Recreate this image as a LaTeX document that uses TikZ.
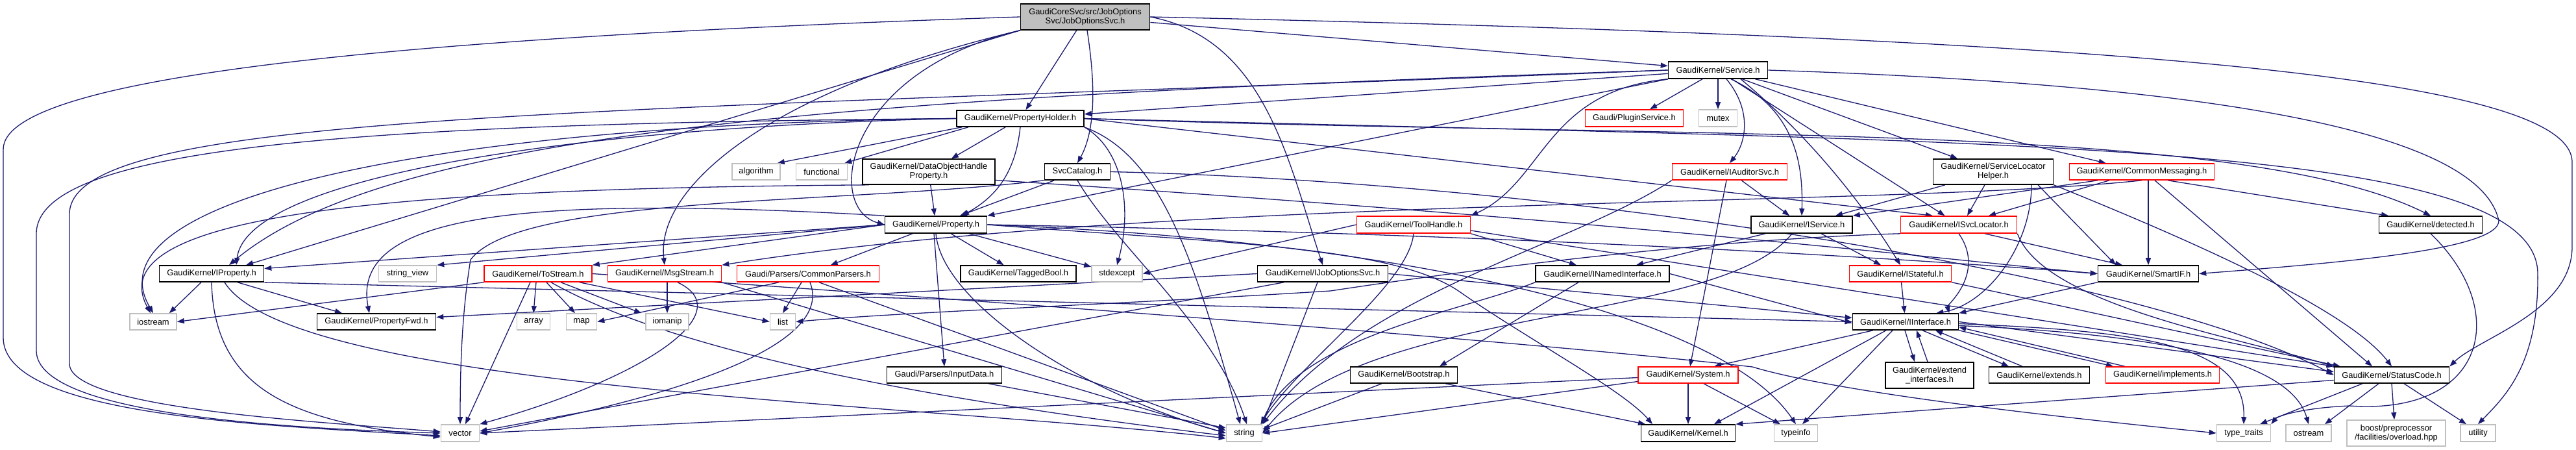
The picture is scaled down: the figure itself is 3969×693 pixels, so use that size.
\documentclass[tikz,border=0pt]{standalone}
\usepackage{fontspec}
\setmainfont{Liberation Sans}
\usetikzlibrary{arrows.meta,backgrounds}
\definecolor{eb}{RGB}{25,25,112}
\definecolor{gb}{RGB}{191,191,191}
\definecolor{rb}{RGB}{255,0,0}
\tikzset{
  wh/.style 2 args={minimum width=#1pt,minimum height=#2pt},
  nd/.style={rectangle,inner sep=0pt,align=center,fill=white,line width=1.6pt,font=\fontsize{12.9}{14}\selectfont},
  blk/.style={nd,draw=black},
  redb/.style={nd,draw=rb},
  gry/.style={nd,draw=gb},
  rootbox/.style={nd,draw=black,fill=gb},
  edge/.style={draw=eb,line width=1.3pt,-{Triangle[length=11pt,width=8pt]}},
}
\begin{document}
\begin{tikzpicture}[x=1pt,y=-1pt]
\useasboundingbox (0,0) rectangle (3969,693);
% nodes
\node[rootbox,wh={199}{40}] (root) at (1672,26) {GaudiCoreSvc/src/JobOptions\\Svc/JobOptionsSvc.h};
\node[blk,wh={153}{26}] (ser) at (2647,108) {GaudiKernel/Service.h};
\node[blk,wh={196}{25}] (ph) at (1572,182.5) {GaudiKernel/PropertyHolder.h};
\node[redb,wh={151}{26}] (plug) at (2518,182) {Gaudi/PluginService.h};
\node[gry,wh={59}{26}] (mutex) at (2647,182) {mutex};
\node[gry,wh={74}{25}] (algo) at (1165,264.5) {algorithm};
\node[gry,wh={79}{25}] (func) at (1266,264.5) {functional};
\node[blk,wh={204}{39}] (dohp) at (1431,264.5) {GaudiKernel/DataObjectHandle\\Property.h};
\node[blk,wh={101}{25}] (svccat) at (1660,264.5) {SvcCatalog.h};
\node[redb,wh={177}{25}] (iaud) at (2665,264.5) {GaudiKernel/IAuditorSvc.h};
\node[blk,wh={185}{39}] (slh) at (3071,264.5) {GaudiKernel/ServiceLocator\\Helper.h};
\node[redb,wh={223}{25}] (cmsg) at (3300,264.5) {GaudiKernel/CommonMessaging.h};
\node[blk,wh={157}{26}] (prop) at (1442,346) {GaudiKernel/Property.h};
\node[redb,wh={175}{26}] (tool) at (2178,346) {GaudiKernel/ToolHandle.h};
\node[blk,wh={156}{26}] (isvc) at (2776,346) {GaudiKernel/IService.h};
\node[redb,wh={179}{26}] (isl) at (3018,346) {GaudiKernel/ISvcLocator.h};
\node[blk,wh={159}{26}] (det) at (3745,346) {GaudiKernel/detected.h};
\node[blk,wh={161}{25}] (iprop) at (326,421.5) {GaudiKernel/IProperty.h};
\node[gry,wh={89}{25}] (sv) at (628,421.5) {string\_view};
\node[redb,wh={166}{25}] (tostr) at (829,421.5) {GaudiKernel/ToStream.h};
\node[redb,wh={175}{25}] (msg) at (1024,421.5) {GaudiKernel/MsgStream.h};
\node[redb,wh={219}{25}] (cp) at (1245,421.5) {Gaudi/Parsers/CommonParsers.h};
\node[blk,wh={178}{25}] (tb) at (1569,421.5) {GaudiKernel/TaggedBool.h};
\node[gry,wh={78}{25}] (stdex) at (1721,421.5) {stdexcept};
\node[blk,wh={201}{25}] (ijo) at (2038,421.5) {GaudiKernel/IJobOptionsSvc.h};
\node[blk,wh={206}{25}] (inamed) at (2469,421.5) {GaudiKernel/INamedInterface.h};
\node[redb,wh={157}{25}] (istate) at (2928,421.5) {GaudiKernel/IStateful.h};
\node[blk,wh={155}{25}] (smart) at (3310,421.5) {GaudiKernel/SmartIF.h};
\node[gry,wh={72}{25}] (iostr) at (236,495.5) {iostream};
\node[blk,wh={183}{25}] (pfwd) at (580,495.5) {GaudiKernel/PropertyFwd.h};
\node[gry,wh={51}{25}] (array) at (822,495.5) {array};
\node[gry,wh={47}{25}] (map) at (896,495.5) {map};
\node[gry,wh={66}{25}] (iomanip) at (1028,495.5) {iomanip};
\node[gry,wh={39}{25}] (list) at (1206,495.5) {list};
\node[blk,wh={163}{25}] (iint) at (2936,495.5) {GaudiKernel/IInterface.h};
\node[blk,wh={177}{25}] (input) at (1455,577.5) {Gaudi/Parsers/InputData.h};
\node[blk,wh={165}{25}] (boot) at (2163,577.5) {GaudiKernel/Bootstrap.h};
\node[redb,wh={154}{25}] (sys) at (2601,577.5) {GaudiKernel/System.h};
\node[blk,wh={136}{40}] (extif) at (2973,578) {GaudiKernel/extend\\\_interfaces.h};
\node[blk,wh={155}{25}] (exts) at (3142,577.5) {GaudiKernel/extends.h};
\node[redb,wh={175}{25}] (impl) at (3332,577.5) {GaudiKernel/implements.h};
\node[blk,wh={177}{25}] (sc) at (3685,577.5) {GaudiKernel/StatusCode.h};
\node[gry,wh={59}{26}] (vector) at (709,667) {vector};
\node[gry,wh={55}{26}] (string) at (1917,667) {string};
\node[blk,wh={145}{26}] (kernel) at (2601,667) {GaudiKernel/Kernel.h};
\node[gry,wh={67}{26}] (typeinfo) at (2767,667) {typeinfo};
\node[gry,wh={83}{26}] (tt) at (3457,667) {type\_traits};
\node[gry,wh={70}{26}] (ostr) at (3557,667) {ostream};
\node[gry,wh={152}{40}] (boost) at (3692,667) {boost/preprocessor\\/facilities/overload.hpp};
\node[gry,wh={54}{26}] (util) at (3818,667) {utility};
\begin{pgfonlayer}{background}
% root
\draw[edge] (root.west) .. controls (700,55) and (5,110) .. (5,230) -- (5,520) .. controls (5,640) and (400,655) .. ([yshift=-4pt]vector.west);
\draw[edge] (root.south west) -- ([xshift=53pt]iprop.north);
\draw[edge] (root.south west) .. controls (1180,140) and (1010,290) .. (msg.north);
\draw[edge] (root.south west) .. controls (1300,110) and (1270,320) .. (prop.west);
\draw[edge] (root) -- (ph);
\draw[edge] ([xshift=3pt]root.south) .. controls (1688,130) and (1688,200) .. (svccat.north);
\draw[edge] (root) -- (ser);
\draw[edge] (root.east) .. controls (1950,60) and (1985,250) .. (ijo.north);
\draw[edge] (root.east) .. controls (3300,60) and (3963,120) .. (3963,250) -- (3963,380) .. controls (3963,480) and (3820,520) .. (sc.north east);
% Service
\draw[edge] (ser) -- (ph);
\draw[edge] (ser) -- (plug);
\draw[edge] (ser) -- (mutex);
\draw[edge] ([xshift=13pt]ser.south) .. controls (2700,170) and (2690,220) .. (iaud.north);
\draw[edge] ([xshift=20pt]ser.south) .. controls (2770,170) and (2778,260) .. (isvc.north);
\draw[edge] (ser) -- (isl);
\draw[edge] ([xshift=35pt]ser.south) .. controls (2800,220) and (2880,330) .. (istate.north);
\draw[edge] (ser) -- (slh);
\draw[edge] (ser) -- (cmsg);
\draw[edge] (ser.south west) .. controls (2380,140) and (2380,280) .. (tool.north east);
\draw[edge] (ser.south west) -- (prop.north east);
\draw[edge] (ser.west) .. controls (1300,150) and (600,200) .. ([xshift=27pt]iprop.north);
\draw[edge] (ser.west) .. controls (900,175) and (107,170) .. (107,330) -- (107,560) .. controls (107,630) and (500,650) .. ([yshift=2pt]vector.west);
\draw[edge] (ser.east) .. controls (3400,130) and (3820,200) .. (3850,340) .. controls (3850,385) and (3600,405) .. (smart.east);
% PropertyHolder
\draw[edge] ([xshift=-90pt]ph.south) -- ([xshift=-5pt]algo.north east);
\draw[edge] ([xshift=-80pt]ph.south) -- ([xshift=-5pt]func.north east);
\draw[edge] (ph) -- (dohp);
\draw[edge] (ph.south) .. controls (1565,260) and (1540,300) .. ([xshift=40pt]prop.north);
\draw[edge] (ph.south east) .. controls (1730,230) and (1745,320) .. (stdex.north);
\draw[edge] (ph.south east) .. controls (1790,240) and (1840,400) .. ([xshift=-6pt]string.north);
\draw[edge] (ph.west) .. controls (600,190) and (56,220) .. (56,360) -- (56,540) .. controls (56,640) and (450,660) .. (vector.west);
\draw[edge] (ph.west) .. controls (700,190) and (130,300) .. (iostr.north);
\draw[edge] (ph.west) .. controls (900,195) and (380,270) .. ([xshift=38pt]iprop.north);
\draw[edge] (ph.east) -- ([xshift=-40pt]isl.north);
\draw[edge] (ph.east) .. controls (2600,215) and (3450,185) .. (det.north);
\draw[edge] (ph.east) .. controls (3100,220) and (3905,215) .. (3910,420) .. controls (3912,560) and (3860,610) .. (util.north);
% DataObjectHandleProperty
\draw[edge] (dohp) -- (prop);
\draw[edge] ([xshift=11pt]dohp.south west) .. controls (600,290) and (150,330) .. ([xshift=-4pt]iostr.north);
\draw[edge] ([yshift=-13pt]dohp.east) .. controls (2500,340) and (3000,400) .. (smart.west);
% SvcCatalog
\draw[edge] (svccat) -- (prop);
\draw[edge] (svccat.south) .. controls (1720,380) and (1870,500) .. ([xshift=4pt]string.north);
\draw[edge] (svccat.south west) .. controls (1300,315) and (800,300) .. (725,400) .. controls (712,480) and (709,560) .. (vector.north);
\draw[edge] (svccat.east) .. controls (2400,280) and (3300,420) .. (sc.west);
% IAuditorSvc
\draw[edge] (iaud) -- (isvc);
\draw[edge] ([xshift=-5pt]iaud.south) -- ([xshift=3pt]sys.north);
\draw[edge] (iaud.south west) .. controls (2420,380) and (2100,450) .. (string.north east);
% ServiceLocatorHelper
\draw[edge] ([xshift=-74pt]slh.south) -- ([xshift=52pt]isvc.north);
\draw[edge] ([xshift=-13pt]slh.south) -- ([xshift=13pt]isl.north);
\draw[edge] ([xshift=59pt]slh.south) .. controls (3130,380) and (3060,470) .. ([xshift=-35pt]iint.north east);
\draw[edge] ([xshift=69pt]slh.south) -- ([xshift=-50pt]smart.north);
\draw[edge] (slh.south east) .. controls (3400,380) and (3620,480) .. (sc.north);
% CommonMessaging
\draw[edge] ([xshift=-68pt]cmsg.south) -- (isvc.north east);
\draw[edge] ([xshift=-50pt]cmsg.south) -- ([xshift=46pt]isl.north);
\draw[edge] (cmsg.south) .. controls (2900,320) and (1800,300) .. (msg.north east);
\draw[edge] ([xshift=10pt]cmsg.south) -- (smart.north);
\draw[edge] ([xshift=40pt]cmsg.south) -- ([xshift=-65pt]det.north);
\draw[edge] ([xshift=20pt]cmsg.south) -- ([xshift=-30pt]sc.north);
% Property
\draw[edge] (prop.west) -- ([yshift=8pt]iprop.east);
\draw[edge] (prop.west) -- (sv.north east);
\draw[edge] (prop.north west) .. controls (800,300) and (540,330) .. ([xshift=-11pt]pfwd.north);
\draw[edge] (prop.west) -- (tostr.north east);
\draw[edge] (prop) -- (cp);
\draw[edge] (prop) -- (tb);
\draw[edge] (prop) -- (stdex);
\draw[edge] ([xshift=-3pt]prop.south) -- (input.north);
\draw[edge] (prop.south) .. controls (1450,460) and (1650,600) .. (string.west);
\draw[edge] (prop.east) .. controls (2300,360) and (2900,395) .. (smart.west);
\draw[edge] (prop.east) .. controls (1900,375) and (2150,380) .. (2250,450) .. controls (2350,520) and (2500,600) .. ([xshift=-55pt]kernel.north);
\draw[edge] (prop.east) .. controls (2150,370) and (2650,480) .. (typeinfo.north);
% ToolHandle
\draw[edge] (tool.south east) -- ([xshift=-40pt]inamed.north);
\draw[edge] (tool.west) -- (stdex.east);
\draw[edge] (tool.south) .. controls (2170,440) and (2000,560) .. ([xshift=-3pt]string.north east);
\draw[edge] ([yshift=-9pt]tool.east) -- (sc.north west);
% IService
\draw[edge] ([xshift=-56pt]isvc.south) -- ([xshift=52pt]inamed.north);
\draw[edge] ([xshift=30pt]isvc.south) -- ([xshift=-30pt]istate.north);
\draw[edge] ([xshift=-15pt]isvc.south) .. controls (2650,500) and (2100,470) .. (string.east);
% ISvcLocator
\draw[edge] (isl.south) .. controls (3060,420) and (3000,470) .. ([xshift=-15pt]iint.north east);
\draw[edge] ([xshift=40pt]isl.south) -- ([xshift=-40pt]smart.north);
\draw[edge] (isl.south east) .. controls (3150,470) and (3450,520) .. (sc.north west);
\draw[edge] (isl.south west) .. controls (2650,368) and (2300,410) .. (2050,448) .. controls (1700,470) and (1400,480) .. (list.east);
% CommonParsers
\draw[edge] ([xshift=-45pt]cp.south) -- (map.east);
\draw[edge] ([xshift=-10pt]cp.south) -- (list.north);
\draw[edge] ([xshift=3pt]cp.south) .. controls (1290,540) and (1000,620) .. (vector.east);
\draw[edge] ([xshift=17pt]cp.south) -- ([yshift=4pt]string.west);
% ToStream
\draw[edge] (tostr.south west) -- (iostr.east);
\draw[edge] ([xshift=-12pt]tostr.south) -- ([xshift=8pt]vector.north);
\draw[edge] ([xshift=-3pt]tostr.south) -- (array.north);
\draw[edge] ([xshift=13pt]tostr.south) -- ([xshift=-10pt]map.north);
\draw[edge] ([xshift=20pt]tostr.south) .. controls (1000,520) and (1300,600) .. ([yshift=-4pt]string.west);
\draw[edge] ([xshift=35pt]tostr.south) -- ([xshift=-6pt]iomanip.north west);
\draw[edge] ([xshift=64pt]tostr.south) -- (list.west);
\draw[edge] (tostr.east) .. controls (1400,455) and (2300,520) .. (2700,565) .. controls (2850,610) and (3250,650) .. (tt.west);
% MsgStream
\draw[edge] ([xshift=4pt]msg.south) -- (iomanip.north);
\draw[edge] ([xshift=20pt]msg.south) .. controls (1140,480) and (1000,580) .. (vector.north east);
\draw[edge] (msg.south east) -- (string.west);
% IProperty
\draw[edge] ([xshift=-16pt]iprop.south) -- ([xshift=-12pt]iostr.north east);
\draw[edge] (iprop.south) .. controls (330,600) and (450,650) .. ([yshift=-6pt]vector.west);
\draw[edge] ([xshift=40pt]iprop.south) -- ([xshift=-53pt]pfwd.north);
\draw[edge] ([xshift=20pt]iprop.south) .. controls (450,600) and (1400,620) .. ([yshift=-8pt]string.west);
\draw[edge] (iprop.south east) -- (iint.west);
% IJobOptionsSvc
\draw[edge] ([xshift=-8pt]ijo.south) -- (string.north east);
\draw[edge] ([xshift=-60pt]ijo.south) -- ([yshift=3pt]vector.east);
\draw[edge] (ijo.east) -- ([yshift=6pt]iint.west);
\draw[edge] (ijo.west) -- ([yshift=7pt]pfwd.east);
% INamedInterface
\draw[edge] (inamed.east) -- ([yshift=-2pt]iint.west);
\draw[edge] (inamed.south west) .. controls (2250,480) and (2000,520) .. ([xshift=-2pt]string.north east);
\draw[edge] ([xshift=-37pt]inamed.south) -- ([xshift=55pt]boot.north);
% IStateful, SmartIF, detected
\draw[edge] (istate) -- (iint);
\draw[edge] (istate.south east) -- ([xshift=10pt]sc.north west);
\draw[edge] (smart.south west) -- (iint.north east);
\draw[edge] (det.south) .. controls (3870,480) and (3830,640) .. (3620,625) .. controls (3550,628) and (3510,640) .. (tt.north east);
% IInterface
\draw[edge] ([xshift=-50pt]iint.south) -- ([xshift=40pt]sys.north);
\draw[edge] ([xshift=-30pt]iint.south) -- ([xshift=40pt]kernel.north);
\draw[edge] ([xshift=-20pt]iint.south) -- ([xshift=10pt]typeinfo.north);
\draw[edge] ([xshift=-1pt]iint.south) -- ([xshift=-23pt]extif.north);
\draw[edge] ([xshift=-3pt]extif.north) -- ([xshift=17pt]iint.south);
\draw[edge] ([xshift=26pt]iint.south) -- ([xshift=-47pt]exts.north);
\draw[edge] ([xshift=-26pt]exts.north) -- ([xshift=46pt]iint.south);
\draw[edge] (iint.south east) -- ([xshift=-76pt]impl.north);
\draw[edge] ([xshift=-58pt]impl.north) -- ([yshift=5pt]iint.south east);
\draw[edge] (iint.east) -- ([yshift=5pt]sc.west);
\draw[edge] ([yshift=-3pt]iint.east) .. controls (3300,510) and (3460,530) .. (tt.north);
\draw[edge] ([yshift=-6pt]iint.east) .. controls (3350,515) and (3530,560) .. (ostr.north);
% System
\draw[edge] (sys) -- (kernel);
\draw[edge] ([xshift=24pt]sys.south) -- ([xshift=-24pt]typeinfo.north);
\draw[edge] ([yshift=-10pt]sys.west) -- (string.east);
\draw[edge] ([yshift=-4pt]sys.west) -- (vector.east);
% StatusCode
\draw[edge] ([yshift=-8pt]sc.west) -- (kernel.north east);
\draw[edge] ([xshift=-45pt]sc.south) -- ([xshift=25pt]tt.north);
\draw[edge] ([xshift=-20pt]sc.south) -- ([xshift=25pt]ostr.north);
\draw[edge] (sc.south) -- ([xshift=-3pt]boost.north);
\draw[edge] ([xshift=19pt]sc.south) -- ([xshift=-18pt]util.north);
% Bootstrap, InputData
\draw[edge] ([xshift=-34pt]boot.south) -- ([yshift=6pt]string.east);
\draw[edge] ([xshift=64pt]boot.south) -- ([xshift=-66pt]kernel.north);
\draw[edge] ([xshift=68pt]input.south) -- ([yshift=8pt]string.west);
\end{pgfonlayer}
\end{tikzpicture}
\end{document}
